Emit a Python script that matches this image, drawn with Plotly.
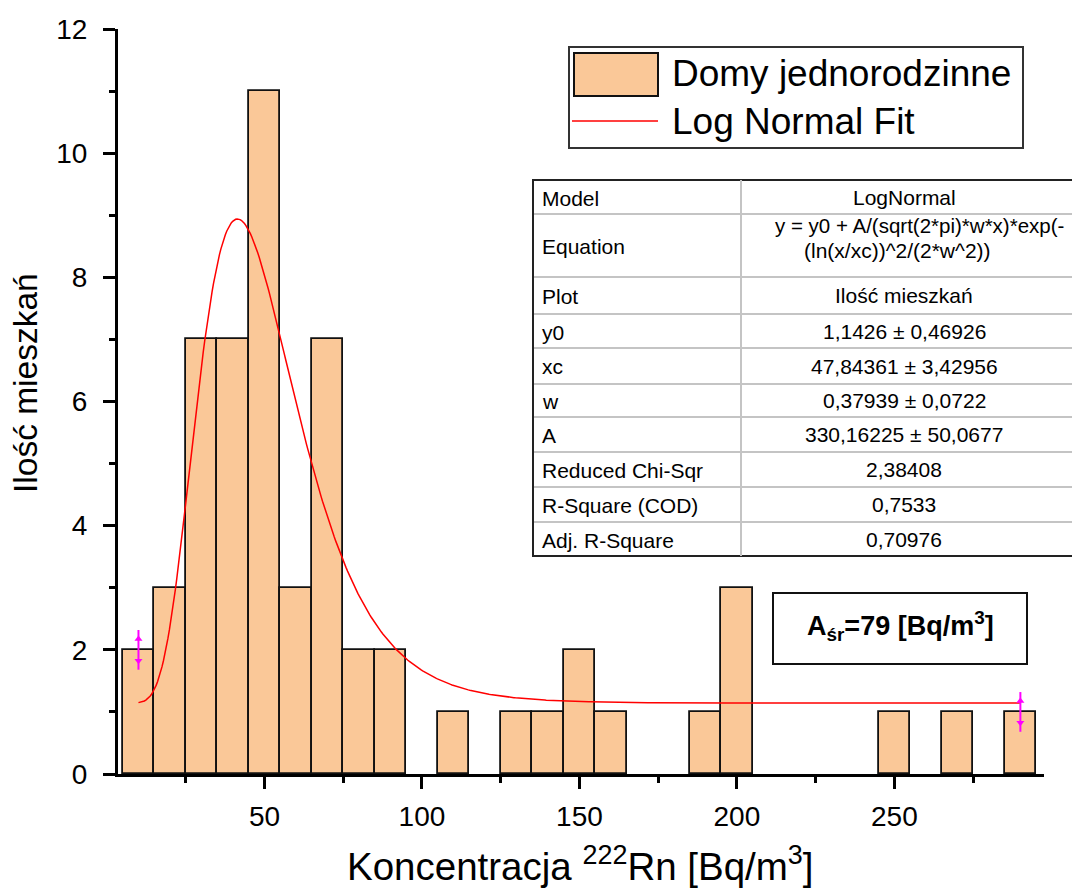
import numpy as np
import plotly.graph_objects as go

# Histogram of radon concentration in single-family houses (bin width 10 Bq/m3)
bin_centers = [10, 20, 30, 40, 50, 60, 70, 80, 90, 100, 110, 120, 130, 140, 150,
               160, 170, 180, 190, 200, 210, 220, 230, 240, 250, 260, 270, 280, 290]
counts = [2, 3, 7, 7, 11, 3, 7, 2, 2, 0, 1, 0, 1, 1, 2,
          1, 0, 0, 1, 3, 0, 0, 0, 0, 1, 0, 1, 0, 1]
bin_width = 10

# LogNormal fit parameters
y0 = 1.1426
xc = 47.84361
w = 0.37939
A = 330.16225
fit_range = [10, 290]

x_tick_vals = [50, 100, 150, 200, 250]
y_tick_vals = [0, 2, 4, 6, 8, 10, 12]

table_rows = [
    ("Model", "LogNormal"),
    ("Equation", None),
    ("Plot", "Ilość mieszkań"),
    ("y0", "1,1426 ± 0,46926"),
    ("xc", "47,84361 ± 3,42956"),
    ("w", "0,37939 ± 0,0722"),
    ("A", "330,16225 ± 50,0677"),
    ("Reduced Chi-Sqr", "2,38408"),
    ("R-Square (COD)", "0,7533"),
    ("Adj. R-Square", "0,70976"),
]
equation_lines = ["y = y0 + A/(sqrt(2*pi)*w*x)*exp(-", "(ln(x/xc))^2/(2*w^2))"]

FONT = "Liberation Sans, Arial, sans-serif"
BAR_FILL = "#FAC898"

# figure geometry (pixels)
W, H = 1072, 896
PL, PR, PT, PB = 118, 1044, 29, 774


def fx(px):
    return (px - PL) / (PR - PL)


def fy(py):
    return (PB - py) / (PB - PT)


def lognormal(x):
    return y0 + A / (np.sqrt(2 * np.pi) * w * x) * np.exp(-(np.log(x / xc)) ** 2 / (2 * w ** 2))


fig = go.Figure()

bx = [c for c, n in zip(bin_centers, counts) if n > 0]
by = [n for n in counts if n > 0]
fig.add_trace(go.Bar(
    x=bx, y=by, width=bin_width, name="Domy jednorodzinne",
    marker=dict(color=BAR_FILL, line=dict(color="#111111", width=1.8)),
    showlegend=False,
))

xf = np.linspace(fit_range[0], fit_range[1], 600)
fig.add_trace(go.Scatter(
    x=xf, y=lognormal(xf), mode="lines", name="Log Normal Fit",
    line=dict(color="#FF0000", width=1.5), showlegend=False,
))

# fit-range handles on the first and last data points
handle_half = 0.32
for cx, cy in [(bin_centers[0], counts[0]), (bin_centers[-1], counts[-1])]:
    fig.add_trace(go.Scatter(
        x=[cx, cx], y=[cy - handle_half, cy + handle_half], mode="lines",
        line=dict(color="#FF00FF", width=2), showlegend=False, hoverinfo="skip",
    ))
    fig.add_trace(go.Scatter(
        x=[cx, cx], y=[cy + handle_half * 0.55, cy - handle_half * 0.55], mode="markers",
        marker=dict(symbol=["triangle-up", "triangle-down"], size=7, color="#FF00FF"),
        showlegend=False, hoverinfo="skip",
    ))

shapes = []
annotations = []

# legend box
shapes.append(dict(type="rect", xref="paper", yref="paper",
                   x0=fx(569), x1=fx(1023), y0=fy(148), y1=fy(47),
                   line=dict(color="#333333", width=2), fillcolor="white", layer="above"))
shapes.append(dict(type="rect", xref="paper", yref="paper",
                   x0=fx(574), x1=fx(658), y0=fy(96), y1=fy(53),
                   line=dict(color="#111111", width=2), fillcolor=BAR_FILL, layer="above"))
shapes.append(dict(type="line", xref="paper", yref="paper",
                   x0=fx(572), x1=fx(658), y0=fy(121), y1=fy(121),
                   line=dict(color="#FF0000", width=1.5), layer="above"))
for txt, cy in [("Domy jednorodzinne", 73), ("Log Normal Fit", 121)]:
    annotations.append(dict(text=txt, xref="paper", yref="paper", x=fx(670), y=fy(cy),
                            xanchor="left", yanchor="middle", showarrow=False,
                            font=dict(family=FONT, size=37, color="black")))

# parameter table
row_edges = [180, 214, 277, 314, 348, 384, 417, 452, 487, 522, 556]
tl, tc, tr = 533, 741, 1100
shapes.append(dict(type="rect", xref="paper", yref="paper",
                   x0=fx(tl), x1=fx(tr), y0=fy(row_edges[-1]), y1=fy(row_edges[0]),
                   line=dict(color="#222222", width=2), fillcolor="white", layer="above"))
for yy in row_edges[1:-1]:
    shapes.append(dict(type="line", xref="paper", yref="paper",
                       x0=fx(tl + 1), x1=fx(tr), y0=fy(yy), y1=fy(yy),
                       line=dict(color="#C4C4C4", width=2), layer="above"))
shapes.append(dict(type="line", xref="paper", yref="paper",
                   x0=fx(tc), x1=fx(tc), y0=fy(row_edges[-1]), y1=fy(row_edges[0]),
                   line=dict(color="#C4C4C4", width=2), layer="above"))

TFS = 21
for i, (lab, val) in enumerate(table_rows):
    cy = (row_edges[i] + row_edges[i + 1]) / 2
    annotations.append(dict(text=lab, xref="paper", yref="paper", x=fx(540), y=fy(cy + 1),
                            xanchor="left", yanchor="middle", showarrow=False,
                            font=dict(family=FONT, size=TFS, color="black")))
    if val is not None:
        annotations.append(dict(text=val, xref="paper", yref="paper", x=fx(904), y=fy(cy),
                                xanchor="center", yanchor="middle", showarrow=False,
                                font=dict(family=FONT, size=TFS, color="black")))
annotations.append(dict(text=equation_lines[0], xref="paper", yref="paper", x=fx(773), y=fy(225),
                        xanchor="left", yanchor="middle", showarrow=False,
                        font=dict(family=FONT, size=20.5, color="black")))
annotations.append(dict(text=equation_lines[1], xref="paper", yref="paper", x=fx(897), y=fy(250),
                        xanchor="center", yanchor="middle", showarrow=False,
                        font=dict(family=FONT, size=TFS, color="black")))

# mean concentration box
shapes.append(dict(type="rect", xref="paper", yref="paper",
                   x0=fx(773), x1=fx(1027), y0=fy(664), y1=fy(593),
                   line=dict(color="#111111", width=2), fillcolor="white", layer="above"))
annotations.append(dict(text="<b>A<sub>śr</sub>=79 [Bq/m<sup>3</sup>]</b>", xref="paper", yref="paper",
                        x=fx(900), y=fy(626), xanchor="center", yanchor="middle", showarrow=False,
                        font=dict(family=FONT, size=27, color="black")))

# axis titles
annotations.append(dict(text="Koncentracja <sup>222</sup>Rn [Bq/m<sup>3</sup>]", xref="paper", yref="paper",
                        x=fx(580), y=fy(864), xanchor="center", yanchor="middle", showarrow=False,
                        font=dict(family=FONT, size=38.5, color="black")))
annotations.append(dict(text="Ilość mieszkań", xref="paper", yref="paper",
                        x=fx(25), y=fy(383), xanchor="center", yanchor="middle", showarrow=False,
                        textangle=-90, font=dict(family=FONT, size=33.5, color="black")))

axis_common = dict(
    showline=True, linecolor="black", linewidth=3, mirror=False,
    ticks="outside", ticklen=12, tickwidth=3, tickcolor="black",
    showgrid=False, zeroline=False,
    tickfont=dict(family=FONT, size=28, color="black"),
)

fig.update_layout(
    width=W, height=H,
    margin=dict(l=PL, r=W - PR, t=PT, b=H - PB, pad=0),
    paper_bgcolor="white", plot_bgcolor="white",
    bargap=0, showlegend=False,
    shapes=shapes, annotations=annotations,
    xaxis=dict(range=[3.5, 297.5], tickvals=x_tick_vals, ticklabelstandoff=3,
               minor=dict(dtick=25, tick0=0, ticks="outside", ticklen=6, tickwidth=3, tickcolor="black"),
               **axis_common),
    yaxis=dict(range=[0, 12], tickvals=y_tick_vals, ticklabelstandoff=10,
               minor=dict(dtick=1, tick0=0, ticks="outside", ticklen=6, tickwidth=3, tickcolor="black"),
               **axis_common),
)

fig.write_html("out.html")
